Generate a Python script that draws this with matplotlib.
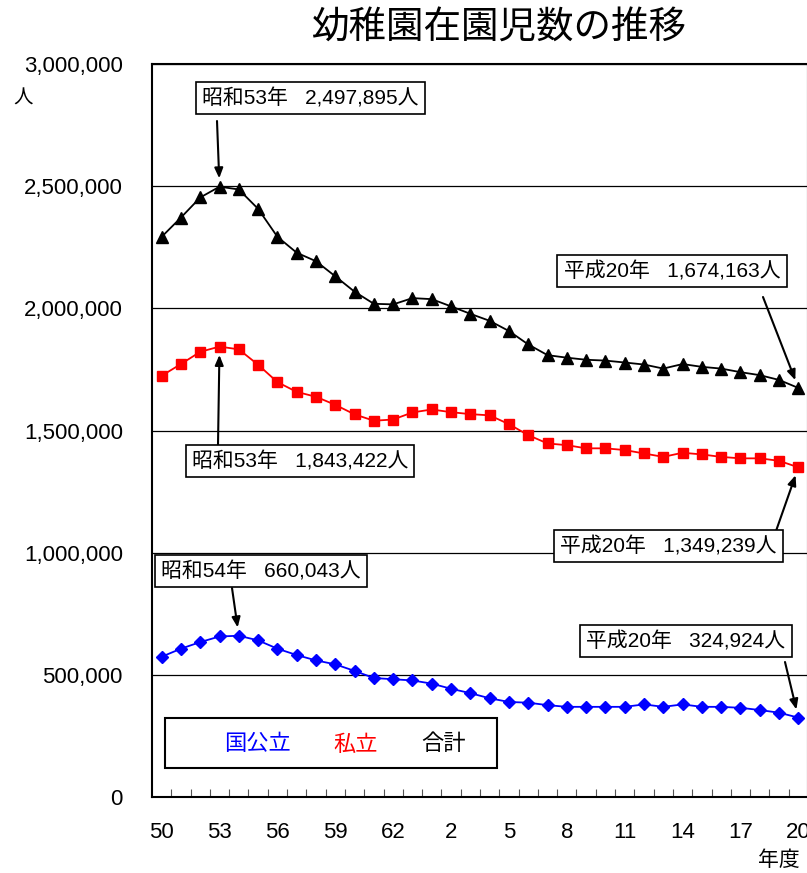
import matplotlib
matplotlib.use('Agg')
import matplotlib.pyplot as plt
from matplotlib.ticker import FuncFormatter, MultipleLocator
from matplotlib.patches import Rectangle
import numpy as np

FONT = ['Liberation Sans', 'Noto Sans CJK JP']
plt.rcParams['font.family'] = FONT

years = ['50', '51', '52', '53', '54', '55', '56', '57', '58', '59', '60', '61', '62', '63',
         '1', '2', '3', '4', '5', '6', '7', '8', '9', '10', '11', '12', '13', '14', '15',
         '16', '17', '18', '19', '20']

total = [2292591, 2371422, 2453687, 2497895, 2486506, 2407093, 2292810, 2227615, 2192808,
         2130994, 2067951, 2018523, 2016224, 2041820, 2037614, 2007964, 1977611, 1948868,
         1907136, 1852183, 1808432, 1798051, 1789523, 1786129, 1778286, 1770000, 1753422,
         1772000, 1760494, 1753393, 1738766, 1726520, 1707000, 1674163]

private = [1724000, 1772000, 1822000, 1843422, 1832000, 1769000, 1698000, 1658000, 1638000,
           1605000, 1566000, 1540000, 1545000, 1574000, 1586000, 1575000, 1567000, 1562000,
           1526000, 1481000, 1447000, 1440000, 1427000, 1427000, 1420000, 1406000, 1392000,
           1409000, 1402000, 1392000, 1386000, 1386000, 1376000, 1349239]

public = [574000, 607000, 634000, 657000, 660043, 641000, 607000, 581000, 559000, 543000,
          516000, 487000, 482000, 477000, 464000, 443000, 425000, 404000, 389000, 386000,
          376000, 369000, 369000, 369000, 369000, 379000, 369000, 379000, 369000, 369000,
          365000, 356000, 345000, 324924]

series_names = ['国公立', '私立', '合計']
series_colors = ['#0000ff', '#ff0000', '#000000']

title = '幼稚園在園児数の推移'

W, H = 807, 873
fig = plt.figure(figsize=(W / 100, H / 100), dpi=100)
ax = fig.add_axes([152 / W, 1 - 797 / H, (808 - 152) / W, (797 - 64) / H])

x = np.arange(len(years))
ax.plot(x, total, color=series_colors[2], marker='^', ms=8.5, lw=1.3, clip_on=False, zorder=3)
ax.plot(x, private, color=series_colors[1], marker='s', ms=7, lw=1.3, clip_on=False, zorder=3)
ax.plot(x, public, color=series_colors[0], marker='D', ms=6.5, lw=1.3, clip_on=False, zorder=3)

ax.set_xlim(-0.5, 33.5)
ax.set_ylim(0, 3000000)
ax.yaxis.set_major_locator(MultipleLocator(500000))
ax.yaxis.set_major_formatter(FuncFormatter(lambda v, p: f'{int(v):,}'))
ax.grid(axis='y', color='black', lw=0.9)
ax.set_axisbelow(True)

ax.set_xticks(x[::3])
ax.set_xticklabels([years[i] for i in x[::3]])
ax.set_xticks(np.arange(0.5, 33, 1), minor=True)
ax.tick_params(axis='x', which='major', length=0, pad=18, labelsize=16)
ax.tick_params(axis='x', which='minor', direction='in', length=6, width=0.8, color='#555555')
ax.tick_params(axis='y', which='major', length=0, pad=21, labelsize=16)
for s in ax.spines.values():
    s.set_linewidth(1.5)

fig.text(499 / W, 1 - 29 / H, title, fontsize=27, ha='center', va='center')
fig.text(23 / W, 1 - 99 / H, '人', fontsize=14, ha='center', va='center')
fig.text(779 / W, 1 - 860 / H, '年度', fontsize=15, ha='center', va='center')

# annotation boxes (center in image pixels) and arrows
boxes = [
    ('昭和53年   2,497,895人', 310, 98, 3, total, (217, 121)),
    ('平成20年   1,674,163人', 672, 271, 33, total, (763, 297)),
    ('昭和53年   1,843,422人', 300, 461, 3, private, (218, 445)),
    ('平成20年   1,349,239人', 668, 546, 33, private, (776, 531)),
    ('昭和54年   660,043人', 261, 571, 4, public, (232, 588)),
    ('平成20年   324,924人', 686, 641, 33, public, (785, 662)),
]
for txt, cx, cy, idx, ser, (sx, sy) in boxes:
    fig.text(cx / W, 1 - cy / H, txt, fontsize=15, ha='center', va='center',
             bbox=dict(boxstyle='square,pad=0.3', fc='white', ec='black', lw=1.2), zorder=5)
    ax.annotate('', xy=(x[idx], ser[idx]), xycoords='data',
                xytext=(sx, H - sy), textcoords='figure pixels',
                arrowprops=dict(arrowstyle='-|>,head_length=0.6,head_width=0.25',
                                color='black', lw=1.5, shrinkA=0, shrinkB=6),
                annotation_clip=False)

# legend box with coloured labels
fig.add_artist(Rectangle((165 / W, 1 - 768 / H), (497 - 165) / W, 50 / H,
                         transform=fig.transFigure, fc='white', ec='black', lw=1.5, zorder=4))
for name, col, cx in zip(series_names, series_colors, [257, 356, 444]):
    fig.text(cx / W, 1 - 745 / H, name, color=col, fontsize=16, ha='center', va='center', zorder=5)

fig.savefig('out.png', dpi=100)
